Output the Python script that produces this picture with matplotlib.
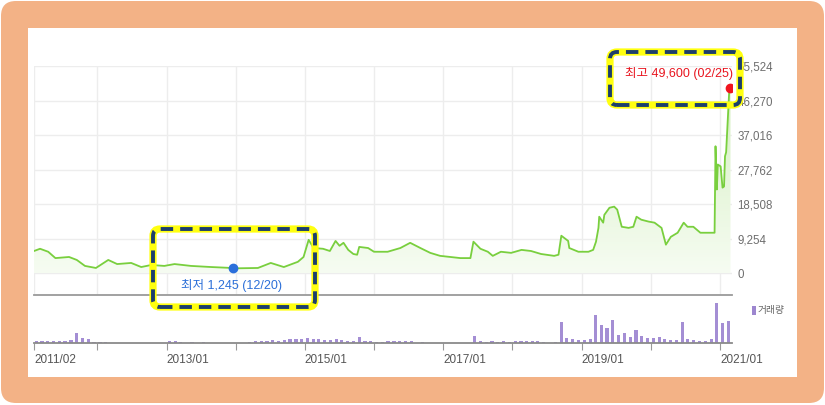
import numpy as np
import matplotlib
matplotlib.use("Agg")
import matplotlib.pyplot as plt
import matplotlib.dates as mdates
from matplotlib.patches import FancyBboxPatch, Rectangle
from matplotlib.colors import LinearSegmentedColormap

plt.rcParams['font.family'] = ['Liberation Sans', 'Noto Sans CJK KR']

# price line
price_dates = [
    '2011-02-01', '2011-03-05', '2011-04-17', '2011-05-25', '2011-08-05', '2011-09-15',
    '2011-10-28', '2011-12-25', '2012-02-28', '2012-04-15', '2012-06-28', '2012-08-20',
    '2012-10-12', '2012-12-20', '2013-02-12', '2013-05-10', '2013-08-25', '2013-11-20',
    '2013-12-20', '2014-04-28', '2014-07-05', '2014-09-12', '2014-11-25', '2014-12-25',
    '2015-01-21', '2015-02-16', '2015-04-07', '2015-05-13', '2015-06-12', '2015-07-03',
    '2015-07-24', '2015-08-18', '2015-09-14', '2015-10-04', '2015-10-15', '2015-12-01',
    '2016-01-01', '2016-03-13', '2016-05-19', '2016-07-10', '2016-09-02', '2016-10-24',
    '2016-12-15', '2017-02-07', '2017-04-01', '2017-05-24', '2017-06-09', '2017-07-16',
    '2017-08-24', '2017-09-19', '2017-11-01', '2017-12-25', '2018-02-18', '2018-04-09',
    '2018-06-01', '2018-08-09', '2018-09-01', '2018-09-16', '2018-10-22', '2018-10-28',
    '2018-12-15', '2019-02-06', '2019-03-03', '2019-03-18', '2019-03-31', '2019-04-04',
    '2019-04-25', '2019-05-01', '2019-05-28', '2019-06-22', '2019-07-08', '2019-08-01',
    '2019-09-06', '2019-10-01', '2019-10-18', '2019-11-12', '2019-12-20', '2020-01-21',
    '2020-02-27', '2020-03-21', '2020-04-16', '2020-05-22', '2020-06-23', '2020-07-13',
    '2020-08-13', '2020-09-19', '2020-10-25', '2020-12-03', '2020-12-08', '2020-12-15',
    '2020-12-20', '2021-01-04', '2021-01-14', '2021-01-22', '2021-01-27', '2021-02-02',
    '2021-02-18', '2021-02-25']
prices = [
    5900, 6500, 5700, 4000, 4300, 3500,
    1900, 1350, 3500, 2400, 2700, 1600,
    2150, 1900, 2400, 1900, 1600, 1400,
    1245, 1350, 2700, 1600, 3000, 4300,
    8900, 6700, 6500, 5900, 8600, 7300,
    8100, 6200, 5100, 4900, 7000, 6700,
    5700, 5700, 6700, 8100, 6700, 5400,
    4600, 4300, 4000, 4000, 8400, 6500,
    5700, 4600, 5700, 5400, 6200, 5900,
    5100, 4600, 4900, 10000, 8600, 6700,
    5700, 5700, 6200, 8400, 12100, 15100,
    13500, 15600, 17500, 17800, 17000, 12400,
    12100, 12400, 15100, 14300, 13800, 13500,
    12100, 7600, 9700, 10800, 13500, 12400,
    12400, 10800, 10800, 10800, 34000, 22400,
    29100, 28600, 22900, 23200, 31300, 32400,
    48500, 49600]

# monthly volume, 2011/02 .. 2021/02 (thousand shares)
vol_start = '2011-02'
volumes = [
    38, 38, 38, 38, 50, 50, 75, 250, 125, 100, 25,
    25, 20, 12, 8, 5, 0, 0, 0, 0, 0, 0, 0,
    50, 38, 25, 12, 25, 12, 25, 12, 12, 0, 12, 12,
    12, 0, 25, 50, 62, 50, 75, 62, 75, 88, 100, 112,
    125, 100, 88, 75, 75, 100, 75, 62, 50, 150, 50, 38,
    25, 25, 38, 38, 38, 38, 38, 12, 25, 12, 0, 0,
    0, 0, 0, 0, 12, 175, 38, 25, 38, 25, 38, 25,
    38, 50, 38, 38, 50, 25, 12, 25, 525, 125, 100, 75,
    75, 100, 700, 450, 375, 575, 200, 250, 150, 325, 175, 125,
    125, 150, 100, 75, 75, 525, 100, 75, 50, 38, 100, 1000,
    500, 550]

ytick_vals = [0, 9254, 18508, 27762, 37016, 46270, 55524]
xtick_dates = ['2011-02-01', '2012-01-01', '2013-01-01', '2014-01-01', '2015-01-01',
               '2016-01-01', '2017-01-01', '2018-01-01', '2019-01-01', '2020-01-01',
               '2021-01-01']
xtick_labels = ['2011/02', '', '2013/01', '', '2015/01', '', '2017/01', '',
                '2019/01', '', '2021/01']

W, H = 825, 405
fig = plt.figure(figsize=(W / 100, H / 100), dpi=100)
fig.patch.set_facecolor('white')


def px(x, y):
    # pixel position (top-left origin) -> inches for dpi_scale_trans
    return x / 100, (H - y) / 100


# frame
frame = FancyBboxPatch(px(1, 403), 8.23, 4.02, boxstyle='round,pad=0,rounding_size=0.15',
                       transform=fig.dpi_scale_trans, facecolor='#F3B286', edgecolor='none',
                       zorder=-3)
fig.add_artist(frame)
panel = Rectangle(px(28, 377), 7.69, 3.49, transform=fig.dpi_scale_trans,
                  facecolor='white', edgecolor='none', zorder=-2)
fig.add_artist(panel)

pd_num = mdates.date2num(np.array(price_dates, dtype='datetime64[D]'))
xt_num = mdates.date2num(np.array(xtick_dates, dtype='datetime64[D]'))
x0 = mdates.date2num(np.datetime64('2011-02-01'))
x1 = mdates.date2num(np.datetime64('2021-03-05'))

# price panel
ax = fig.add_axes([34 / W, 1 - 295 / H, 698 / W, 229 / H])
ax.set_facecolor('none')
poly = ax.fill_between(pd_num, prices, 0, facecolor='none', edgecolor='none')
cmap = LinearSegmentedColormap.from_list('g', ['#F6FCF2', '#E6F6DA', '#D2EFBD'])
grad = np.linspace(0, 1, 256).reshape(-1, 1)
im = ax.imshow(grad, extent=[x0, x1, 0, max(prices)], origin='lower', aspect='auto',
               cmap=cmap, zorder=1)
im.set_clip_path(poly.get_paths()[0], transform=ax.transData)
ax.plot(pd_num, prices, color='#79CF3E', lw=1.3, zorder=3)

imax = int(np.argmax(prices))
imin = int(np.argmin(prices))
ax.plot(pd_num[imax], prices[imax], 'o', color='#F0141E', ms=6, zorder=5)
ax.plot(pd_num[imin], prices[imin], 'o', color='#2B6FDB', ms=6, zorder=5)

ax.set_xlim(x0, x1)
ax.set_ylim(-5900, 55524)
ax.set_yticks(ytick_vals)
ax.set_yticklabels([f'{v:,}' for v in ytick_vals])
ax.yaxis.tick_right()
ax.tick_params(axis='y', length=0, pad=4, labelsize=8.3, labelcolor='#6E6E6E')
ax.set_xticks(xt_num)
ax.tick_params(axis='x', length=0, labelbottom=False)
ax.grid(True, color='#EDEDED', lw=1, zorder=0)
ax.set_axisbelow(True)
for s in ['top', 'left', 'right']:
    ax.spines[s].set_visible(False)
ax.spines['bottom'].set_color('#9A9A9A')
ax.spines['bottom'].set_linewidth(1.3)

# volume panel
ax2 = fig.add_axes([34 / W, 1 - 343 / H, 698 / W, 48 / H])
ax2.set_facecolor('none')
vol_dates = np.arange(np.datetime64(vol_start), np.datetime64(vol_start) + len(volumes))
vol_num = mdates.date2num(vol_dates.astype('datetime64[D]')) + 14
ax2.bar(vol_num, volumes, width=17, color='#A48ED4', edgecolor='none')
ax2.set_xlim(x0, x1)
ax2.set_ylim(0, 1200)
ax2.set_yticks([])
ax2.set_xticks(xt_num)
ax2.set_xticklabels(xtick_labels)
for lab in ax2.get_xticklabels():
    lab.set_ha('left')
ax2.tick_params(axis='x', length=5, color='#999999', pad=3, labelsize=8.5,
                labelcolor='#555555')
for s in ['top', 'left', 'right']:
    ax2.spines[s].set_visible(False)
ax2.spines['bottom'].set_color('#8A8A8A')
ax2.spines['bottom'].set_linewidth(1.3)

# legend
fig.add_artist(Rectangle(px(752, 315), 0.035, 0.09, transform=fig.dpi_scale_trans,
                         facecolor='#9D86CF', edgecolor='none'))
fig.text(758 / W, 1 - 310 / H, '거래량', fontsize=7, color='#666666', va='center', ha='left')

# annotations
mx_d = np.datetime64(price_dates[imax]).astype(object)
mn_d = np.datetime64(price_dates[imin]).astype(object)
fig.text(733 / W, 1 - 73 / H, f'최고 {prices[imax]:,} ({mx_d:%m/%d})', fontsize=9,
         color='#E8141E', ha='right', va='center')
fig.text(231 / W, 1 - 285 / H, f'최저 {prices[imin]:,} ({mn_d:%m/%d})', fontsize=9,
         color='#2B6FD8', ha='center', va='center')

# dashed highlight boxes
for (bx, by, bw, bh) in [(610, 105, 130, 53), (153, 307, 162, 78)]:
    for ec, lw, ls in [('#FFFF10', 5.2, '-'), ('#1D3F6C', 2.8, (0, (3.2, 1.8)))]:
        fig.add_artist(FancyBboxPatch(px(bx, by), bw / 100, bh / 100,
                                      boxstyle='round,pad=0,rounding_size=0.07',
                                      transform=fig.dpi_scale_trans, facecolor='none',
                                      edgecolor=ec, lw=lw, linestyle=ls, zorder=10))

fig.savefig('out.png', dpi=100)
